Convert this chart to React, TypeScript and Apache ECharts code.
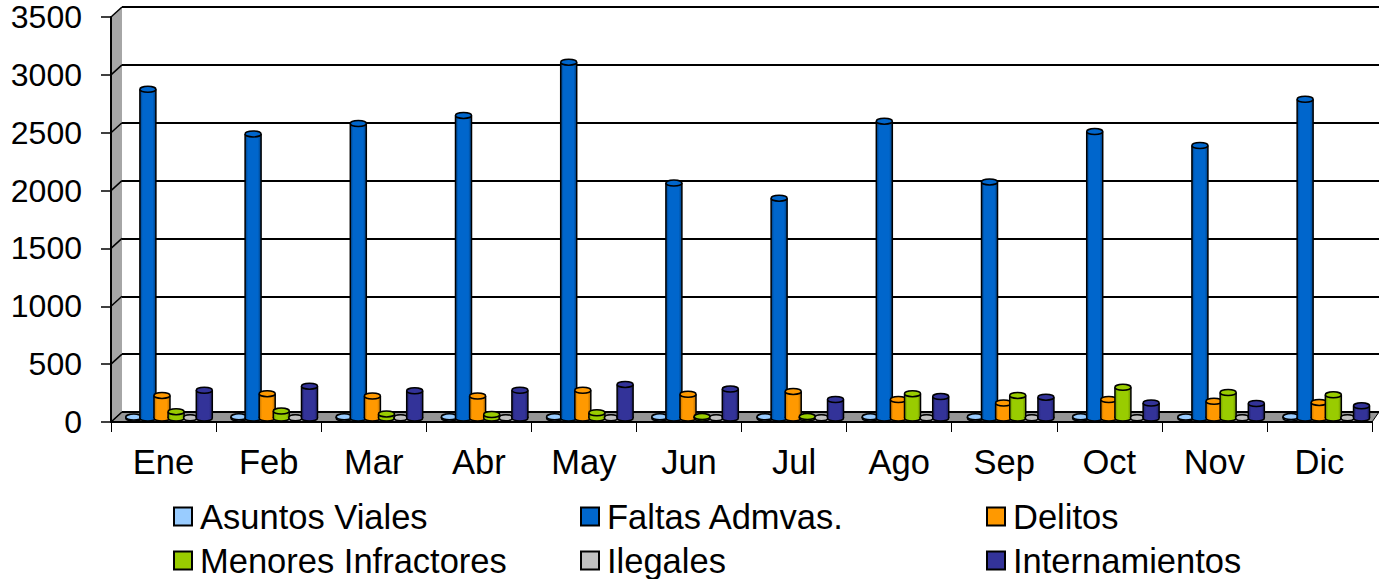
import React, { useEffect, useRef } from "react";
import * as echarts from "echarts";

const months = ["Ene", "Feb", "Mar", "Abr", "May", "Jun", "Jul", "Ago", "Sep", "Oct", "Nov", "Dic"];
const yTicks = [0, 500, 1000, 1500, 2000, 2500, 3000, 3500];
const asuntosViales = [8, 10, 10, 10, 10, 10, 10, 10, 10, 10, 8, 12];
const faltasAdmvas = [2840, 2455, 2545, 2615, 3075, 2030, 1900, 2565, 2040, 2475, 2355, 2755];
const delitos = [195, 210, 190, 190, 240, 205, 230, 160, 130, 160, 145, 135];
const menoresInfractores = [55, 60, 35, 30, 45, 12, 12, 210, 195, 265, 220, 200];
const ilegales = [3, 3, 3, 3, 3, 3, 3, 3, 3, 3, 3, 3];
const internamientos = [240, 275, 235, 240, 290, 250, 160, 185, 180, 130, 125, 105];

const seriesDefs = [
  { name: "Asuntos Viales", values: asuntosViales, color: "#99CCFF", dark: "#5f8fbf" },
  { name: "Faltas Admvas.", values: faltasAdmvas, color: "#0066CC", dark: "#003f80" },
  { name: "Delitos", values: delitos, color: "#FF9900", dark: "#b86e00" },
  { name: "Menores Infractores", values: menoresInfractores, color: "#99CC00", dark: "#6a8f00" },
  { name: "Ilegales", values: ilegales, color: "#C0C0C0", dark: "#8a8a8a" },
  { name: "Internamientos", values: internamientos, color: "#333399", dark: "#1f1f66" },
];

const FONT = "'Liberation Sans', Arial, sans-serif";
const FS_Y = 32;
const FS = 34.5;
const L = 111, R = 1372, T = 17, B = 422, DX = 11, DY = 10;
const W = 1379, H = 579;

function cylinder(def: any, index: number) {
  return (params: any, api: any) => {
    const p0 = api.coord([api.value(0), 0]);
    const p1 = api.coord([api.value(0), api.value(1)]);
    const cx = p0[0] + (index - 2.5) * 14.1 + 5.5 + api.value(0) * 0.12;
    const rx = index === 4 ? 6.5 : 8;
    const ry = 3;
    const yb = p0[1] - 4;
    const yt = p1[1] - 4;
    const fill = {
      type: "linear", x: 0, y: 0, x2: 1, y2: 0,
      colorStops: [
        { offset: 0, color: def.dark },
        { offset: 0.18, color: def.color },
        { offset: 0.8, color: def.color },
        { offset: 1, color: def.dark },
      ],
    };
    const children: any[] = [
      { type: "ellipse", shape: { cx, cy: yb, rx, ry }, style: { fill: def.color, stroke: "#000", lineWidth: 1.5 } },
      { type: "rect", shape: { x: cx - rx, y: yt, width: rx * 2, height: Math.max(yb - yt, 0) }, style: { fill } },
      { type: "line", shape: { x1: cx - rx, y1: yt, x2: cx - rx, y2: yb }, style: { stroke: "#000", lineWidth: 1.5 } },
      { type: "line", shape: { x1: cx + rx, y1: yt, x2: cx + rx, y2: yb }, style: { stroke: "#000", lineWidth: 1.5 } },
      { type: "ellipse", shape: { cx, cy: yt, rx, ry }, style: { fill: def.color, stroke: "#000", lineWidth: 1.5 } },
    ];
    return { type: "group", children };
  };
}

function legendItem(x: number, y: number, d: any) {
  return {
    left: x,
    top: y,
    itemWidth: 18,
    itemHeight: 18,
    padding: 0,
    selectedMode: false,
    textStyle: { fontFamily: FONT, fontSize: FS, color: "#000", padding: [0, 0, 0, 3] },
    data: [{
      name: d.name,
      icon: "rect",
      itemStyle: { color: d.color, borderColor: "#000", borderWidth: 2 },
    }],
  };
}

export default function App() {
  const ref = useRef<HTMLDivElement>(null);
  useEffect(() => {
    const chart = echarts.init(ref.current!, undefined, { renderer: "svg" });
    const step = (B - T) / (yTicks.length - 1);
    const diagonals = yTicks.map((_, i) => ({
      type: "line",
      z: 1,
      shape: { x1: L, y1: B - i * step, x2: L + DX, y2: B - i * step - DY },
      style: { stroke: "#000", lineWidth: 1.5 },
    }));
    chart.setOption({
      animation: false,
      backgroundColor: "#fff",
      grid: [
        { left: L, right: W - R, top: T, bottom: H - B },
        { left: L + DX, right: 0, top: T - DY, bottom: H - B + DY },
      ],
      xAxis: [
        {
          type: "category",
          data: months,
          gridIndex: 0,
          boundaryGap: true,
          axisLine: { lineStyle: { color: "#000", width: 2 } },
          axisTick: { show: true, length: 10, lineStyle: { color: "#000", width: 1 } },
          axisLabel: { fontFamily: FONT, fontSize: FS, color: "#000", margin: 22 },
          splitLine: { show: false },
          z: 5,
        },
        { type: "category", data: months, gridIndex: 1, show: false },
      ],
      yAxis: [
        {
          type: "value",
          gridIndex: 0,
          min: 0,
          max: 3500,
          interval: 500,
          axisLine: { show: true, lineStyle: { color: "#000", width: 2 } },
          axisTick: { show: true, length: 10, lineStyle: { color: "#000", width: 1.5 } },
          axisLabel: { fontFamily: FONT, fontSize: FS_Y, color: "#000", margin: 29, formatter: (v: number) => String(v) },
          splitLine: { show: false },
          z: 5,
        },
        {
          type: "value",
          gridIndex: 1,
          min: 0,
          max: 3500,
          interval: 500,
          axisLine: { show: false },
          axisTick: { show: false },
          axisLabel: { show: false },
          splitLine: { show: true, lineStyle: { color: "#000", width: 2 } },
          z: 1,
        },
      ],
      legend: [
        legendItem(173, 499, seriesDefs[0]),
        legendItem(173, 543, seriesDefs[3]),
        legendItem(580, 499, seriesDefs[1]),
        legendItem(580, 543, seriesDefs[4]),
        legendItem(986, 499, seriesDefs[2]),
        legendItem(986, 543, seriesDefs[5]),
      ],
      graphic: {
        elements: [
          {
            type: "polygon",
            z: 1,
            shape: { points: [[L, T], [L + DX, T - DY], [L + DX, B - DY], [L, B]] },
            style: { fill: "#A6A6A6" },
          },
          {
            type: "polygon",
            z: 1,
            shape: { points: [[L, B], [L + DX, B - DY], [W, B - DY], [R, B]] },
            style: { fill: "#969696", stroke: "#000", lineWidth: 1 },
          },
          ...diagonals,
        ],
      },
      series: seriesDefs.map((def, i) => ({
        name: def.name,
        type: "custom",
        xAxisIndex: 0,
        yAxisIndex: 0,
        clip: false,
        z: 10,
        itemStyle: { color: def.color },
        encode: { x: 0, y: 1 },
        data: def.values.map((v, k) => [k, v]),
        renderItem: cylinder(def, i),
      })),
    });
    return () => chart.dispose();
  }, []);
  return <div ref={ref} style={{ position: "absolute", left: 0, top: 0, width: W, height: H }} />;
}
